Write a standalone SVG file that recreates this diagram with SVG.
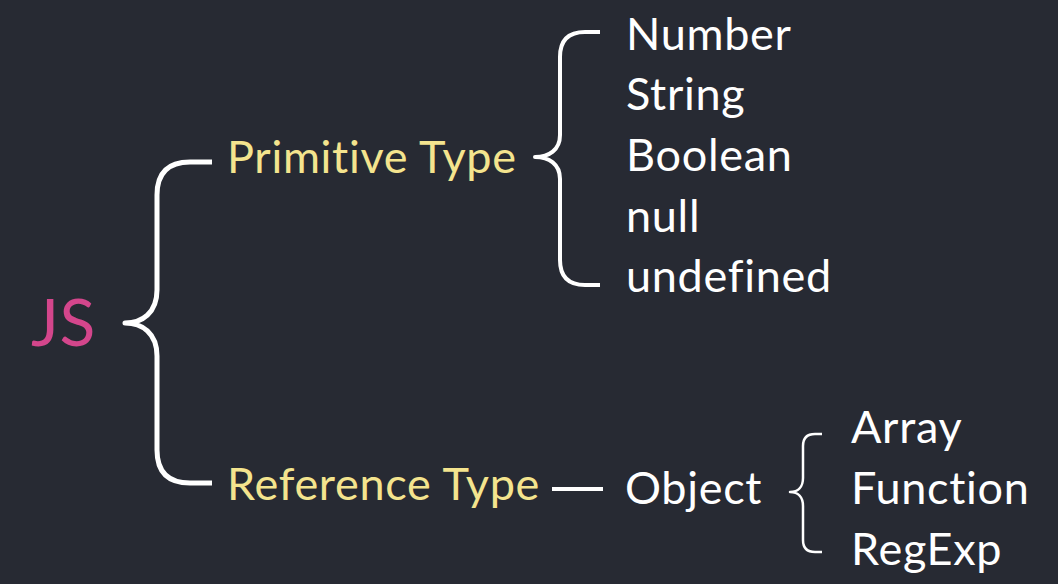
<svg xmlns="http://www.w3.org/2000/svg" width="1058" height="584" viewBox="0 0 1058 584">
  <style>
    text { font-family: Lato, "Open Sans", "Liberation Sans", sans-serif; font-size: 45px; letter-spacing: 0.7px; font-variant-ligatures: none; font-feature-settings: "liga" 0, "clig" 0; }
    .w { fill: #ffffff; }
    .y { fill: #f4e48e; }
    .js { fill: #d4468c; font-size: 66px; }
    .br { fill: none; stroke: #ffffff; stroke-linecap: butt; stroke-linejoin: round; }
  </style>
  <rect width="1058" height="584" fill="#272a33"/>
  <g id="connectors">
    <path class="br" stroke-width="5" d="M212,162 H190 Q157,162 157,195 V290 C157,313 142,323 125,323 C142,323 157,333 157,356 V450 Q157,483 190,483 H212"/>
    <path class="br" stroke-width="4" d="M600,32 H585 Q560,32 560,57 V135 C560,150 549,157 535,157 C549,157 560,164 560,179 V260 Q560,285 585,285 H600"/>
    <path class="br" stroke-width="4" d="M552,489 H603"/>
    <path class="br" stroke-width="2.5" d="M822,434 H815 Q803,434 803,446 V478 C803,487 798,492 790,492 C798,492 803,497 803,506 V540 Q803,552 815,552 H822"/>
  </g>
  <g id="js"><text class="js" x="31" y="346">JS</text></g>
  <g id="primitive"><text class="y" x="227" y="173">Primitive Type</text></g>
  <g id="reference"><text class="y" x="227" y="500">Reference Type</text></g>
  <g id="primitives">
    <text class="w" x="626" y="50">Number</text>
    <text class="w" x="626" y="110">String</text>
    <text class="w" x="626" y="171">Boolean</text>
    <text class="w" x="626" y="232">null</text>
    <text class="w" x="626" y="292">undefined</text>
  </g>
  <g id="object"><text class="w" x="625" y="504">Object</text></g>
  <g id="objects">
    <text class="w" x="851" y="443">Array</text>
    <text class="w" x="851" y="504">Function</text>
    <text class="w" x="851" y="565">RegExp</text>
  </g>
</svg>
